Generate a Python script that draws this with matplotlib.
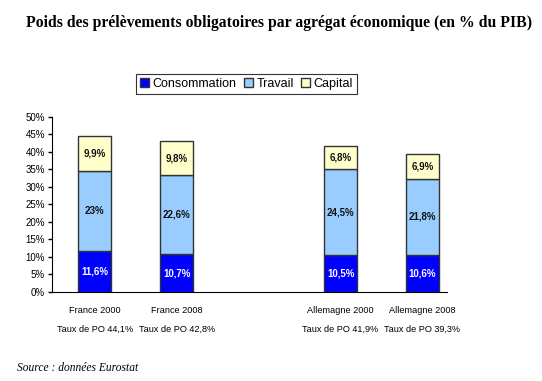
import numpy as np
import matplotlib
matplotlib.use('Agg')
import matplotlib.pyplot as plt

# data
categories = ['France 2000', 'France 2008', 'Allemagne 2000', 'Allemagne 2008']
taux_po = ['Taux de PO 44,1%', 'Taux de PO 42,8%', 'Taux de PO 41,9%', 'Taux de PO 39,3%']
positions = [0, 1, 3, 4]
consommation = [11.6, 10.7, 10.5, 10.6]
travail = [23.0, 22.6, 24.5, 21.8]
capital = [9.9, 9.8, 6.8, 6.9]
labels_cons = ['11,6%', '10,7%', '10,5%', '10,6%']
labels_trav = ['23%', '22,6%', '24,5%', '21,8%']
labels_cap = ['9,9%', '9,8%', '6,8%', '6,9%']

sans = ['Liberation Sans', 'DejaVu Sans']
serif = ['Liberation Serif', 'DejaVu Serif']

fig = plt.figure(figsize=(5.42, 3.81), dpi=100)
ax = fig.add_axes([0.096, 0.234, 0.729, 0.459])

w = 0.41
edge = '#333333'
b1 = ax.bar(positions, consommation, w, color='#0000FF', edgecolor=edge, linewidth=1, label='Consommation')
b2 = ax.bar(positions, travail, w, bottom=consommation, color='#99CCFF', edgecolor=edge, linewidth=1, label='Travail')
bot3 = np.array(consommation) + np.array(travail)
b3 = ax.bar(positions, capital, w, bottom=bot3, color='#FFFFCC', edgecolor=edge, linewidth=1, label='Capital')

ax.bar_label(b1, labels=labels_cons, label_type='center', color='white', fontsize=7, fontweight='bold', family=sans)
ax.bar_label(b2, labels=labels_trav, label_type='center', color='#111111', fontsize=7, fontweight='bold', family=sans)
ax.bar_label(b3, labels=labels_cap, label_type='center', color='#111111', fontsize=7, fontweight='bold', family=sans)

ax.set_ylim(0, 50)
ax.set_xlim(-0.52, 4.3)
ax.set_yticks(np.arange(0, 51, 5))
ax.set_yticklabels(['%d%%' % v for v in range(0, 51, 5)], fontsize=7, family=sans)
ax.tick_params(axis='y', direction='out', length=3, width=1, pad=2)
ax.set_xticks(positions)
ax.set_xticklabels([c + '\n' + t for c, t in zip(categories, taux_po)], fontsize=6.6, family=sans, linespacing=2.4)
ax.tick_params(axis='x', length=0, pad=10)
for s in ['top', 'right']:
    ax.spines[s].set_visible(False)
ax.spines['left'].set_color('black')
ax.spines['bottom'].set_color('black')

leg = fig.legend(handles=[b1, b2, b3], loc='center', bbox_to_anchor=(0.455, 0.78), ncol=3,
                 frameon=True, fancybox=False, edgecolor='black', handlelength=0.7, handleheight=0.7,
                 handletextpad=0.3, columnspacing=0.6, borderpad=0.3, prop={'family': sans, 'size': 9})
leg.get_frame().set_linewidth(0.8)

fig.text(0.515, 0.94, 'Poids des prélèvements obligatoires par agrégat économique (en % du PIB)',
         ha='center', va='center', fontsize=11.3, fontweight='bold', family=serif)
fig.text(0.031, 0.034, 'Source : données Eurostat', ha='left', va='center', fontsize=8.3, style='italic', family=serif)

fig.savefig('out.png', dpi=100)
